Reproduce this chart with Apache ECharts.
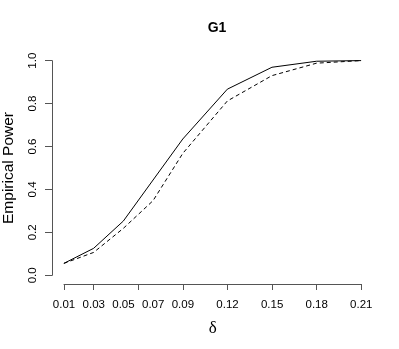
<!DOCTYPE html>
<html>
<head>
<meta charset="utf-8">
<script src="https://cdn.jsdelivr.net/npm/echarts@6/dist/echarts.min.js"></script>
<style>
  html, body { margin: 0; padding: 0; background: #fff; }
  #chart { width: 399px; height: 349px; }
</style>
</head>
<body>
<div id="chart"></div>
<script>
// delta values (x), and the two power curves
var deltas = [0.01, 0.03, 0.05, 0.07, 0.09, 0.12, 0.15, 0.18, 0.21];
var powerSolid = [0.056, 0.126, 0.253, 0.444, 0.635, 0.867, 0.969, 0.997, 1.0];
var powerDashed = [0.056, 0.107, 0.219, 0.348, 0.568, 0.812, 0.930, 0.988, 1.0];
var yTicks = [0.0, 0.2, 0.4, 0.6, 0.8, 1.0];

function pairs(xs, ys) {
  return xs.map(function (x, i) { return [x, ys[i]]; });
}

var font = 'Liberation Sans, Arial, Helvetica, sans-serif';
var axisCol = '#555';

var chart = echarts.init(document.getElementById('chart'));
chart.setOption({
  animation: false,
  backgroundColor: '#fff',
  title: {
    text: 'G1',
    left: 212,
    textAlign: 'center',
    top: 16,
    textStyle: { fontFamily: font, fontSize: 14, fontWeight: 'bold', color: '#000' }
  },
  grid: [
    // data region (R extends the range by 4%)
    { left: 52, right: 26, top: 52, bottom: 65, outerBoundsMode: 'none' },
    // x axis drawn only over the tick range
    { left: 64, right: 37.7, top: 52, bottom: 65, outerBoundsMode: 'none' },
    // y axis drawn only over the tick range
    { left: 52, right: 26, top: 60.7, bottom: 73.7, outerBoundsMode: 'none' }
  ],
  xAxis: [
    { type: 'value', gridIndex: 0, min: 0.002, max: 0.218, show: false },
    {
      type: 'value', gridIndex: 1, min: 0.01, max: 0.21,
      position: 'bottom', offset: 0,
      name: 'δ', nameLocation: 'middle', nameGap: 36,
      nameTextStyle: { fontFamily: 'Liberation Serif, Times New Roman, serif', fontSize: 17, color: '#000' },
      axisLine: { show: true, lineStyle: { color: axisCol, width: 1 } },
      axisTick: { show: true, length: 6, lineStyle: { color: axisCol } },
      axisLabel: {
        fontFamily: font, fontSize: 11.5, color: '#000', margin: 15,
        customValues: deltas,
        formatter: function (v) { return v.toFixed(2); }
      },
      splitLine: { show: false }
    },
    { type: 'value', gridIndex: 2, min: 0, max: 1, show: false }
  ],
  yAxis: [
    { type: 'value', gridIndex: 0, min: -0.04, max: 1.04, show: false },
    { type: 'value', gridIndex: 1, min: 0, max: 1, show: false },
    {
      type: 'value', gridIndex: 2, min: 0, max: 1, interval: 0.2,
      position: 'left',
      name: 'Empirical Power', nameLocation: 'middle', nameGap: 35, nameRotate: 90,
      nameTextStyle: { fontFamily: font, fontSize: 15.5, color: '#000' },
      axisLine: { show: true, lineStyle: { color: axisCol, width: 1 } },
      axisTick: { show: true, length: 7, lineStyle: { color: axisCol } },
      axisLabel: {
        fontFamily: font, fontSize: 11.5, color: '#000', margin: 13, rotate: 90,
        customValues: yTicks,
        formatter: function (v) { return v.toFixed(1); }
      },
      splitLine: { show: false }
    }
  ],
  series: [
    {
      type: 'line', xAxisIndex: 0, yAxisIndex: 0,
      data: pairs(deltas, powerSolid),
      showSymbol: false, silent: true,
      lineStyle: { color: '#000', width: 1 }
    },
    {
      type: 'line', xAxisIndex: 0, yAxisIndex: 0,
      data: pairs(deltas, powerDashed),
      showSymbol: false, silent: true,
      lineStyle: { color: '#000', width: 1, type: [4, 3] }
    }
  ]
});
</script>
</body>
</html>
